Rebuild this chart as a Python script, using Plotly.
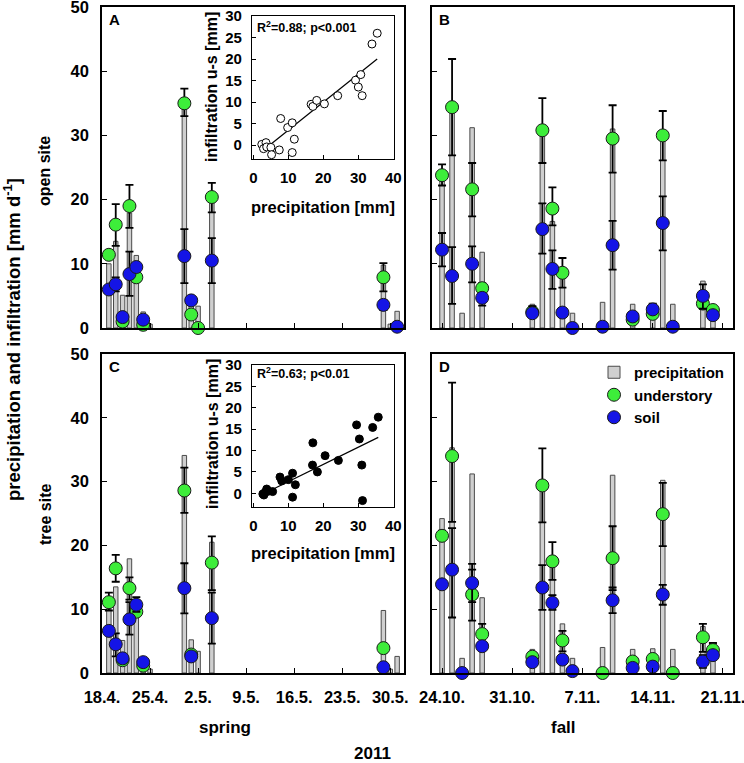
import plotly.graph_objects as go

W, H = 744, 763


def px(x):
    return x / W


def py(y):
    return 1 - y / H


FONT = "Liberation Sans, Arial, sans-serif"

# ---------------- data ----------------
# precipitation (shared by open and tree site panels)
spring_bar_dates = ['2011-04-19', '2011-04-20', '2011-04-21', '2011-04-22', '2011-04-23', '2011-04-24',
                    '2011-04-25', '2011-04-30', '2011-05-01', '2011-05-02', '2011-05-04', '2011-05-29',
                    '2011-05-30', '2011-05-31']
spring_precip = [10.0, 13.5, 5.1, 17.9, 11.3, 2.5, 0.6, 34.1, 5.2, 3.4, 20.5, 9.8, 0.6, 2.6]

fall_dates = ['2011-10-24', '2011-10-25', '2011-10-26', '2011-10-27', '2011-10-28', '2011-11-02',
              '2011-11-03', '2011-11-04', '2011-11-05', '2011-11-06', '2011-11-09', '2011-11-10',
              '2011-11-12', '2011-11-14', '2011-11-15', '2011-11-16', '2011-11-19', '2011-11-20']
fall_precip = [24.2, 35.3, 2.3, 31.2, 11.8, 3.7, 30.0, 16.6, 7.7, 2.3, 4.0, 31.0, 3.7, 3.8, 30.2, 3.7, 7.3, 3.4]

spring_dates = ['2011-04-19', '2011-04-20', '2011-04-21', '2011-04-22', '2011-04-23', '2011-04-24',
                '2011-04-30', '2011-05-01', '2011-05-02', '2011-05-04', '2011-05-29', '2011-05-31']

# A: open site, spring
A_green = [11.4, 16.1, 1.0, 19.0, 7.9, 0.5, 35.0, 2.1, 0.0, 20.4, 7.9, None]
A_green_hi = [11.4, 19.3, 1.0, 22.3, 7.9, 0.5, 37.3, 2.1, 0.0, 22.6, 10.1, None]
A_green_lo = [11.4, 12.8, 1.0, 15.6, 7.9, 0.5, 33.0, 2.1, 0.0, 18.0, 5.7, None]
A_blue = [6.0, 6.8, 1.7, 8.4, 9.5, 1.3, 11.2, 4.3, None, 10.5, 3.6, 0.2]
A_blue_hi = [6.0, 7.9, 1.7, 11.9, 9.5, 1.3, 15.4, 4.3, None, 14.0, 4.3, 0.2]
A_blue_lo = [6.0, 5.7, 1.7, 5.0, 9.5, 1.3, 7.0, 4.3, None, 7.0, 2.8, 0.2]

# C: tree site, spring
C_green = [11.1, 16.4, 2.0, 13.3, 9.6, 1.15, 28.6, 2.9, None, 17.3, 3.9, None]
C_green_hi = [12.6, 18.5, 2.0, 15.0, 9.6, 1.15, 32.2, 2.9, None, 21.4, 3.9, None]
C_green_lo = [9.8, 14.3, 2.0, 11.5, 9.6, 1.15, 25.1, 2.9, None, 13.0, 3.9, None]
C_blue = [6.6, 4.5, 2.3, 8.4, 10.7, 1.7, 13.3, 2.6, None, 8.6, 0.9, None]
C_blue_hi = [6.6, 6.2, 2.3, 11.1, 11.9, 1.7, 17.2, 2.6, None, 12.6, 0.9, None]
C_blue_lo = [6.6, 2.6, 2.3, 6.0, 9.6, 1.7, 9.35, 2.6, None, 4.6, 0.9, None]

# B: open site, fall
B_green = [23.8, 34.4, None, 21.6, 6.2, 2.5, 30.8, 18.6, 8.6, None, None, 29.5, 1.3, 2.2, 30.0, None, 3.8, 2.8]
B_green_hi = [25.5, 41.9, None, 25.7, 7.0, 2.5, 35.8, 21.9, 10.9, None, None, 34.7, 1.3, 2.2, 33.8, None, 3.8, 2.8]
B_green_lo = [22.2, 26.9, None, 17.4, 6.2, 2.5, 25.7, 16.0, 6.3, None, None, 24.2, 1.3, 2.2, 26.1, None, 3.8, 2.8]
B_blue = [12.2, 8.1, None, 10.0, 4.7, 2.3, 15.4, 9.2, 2.4, 0.0, 0.2, 12.9, 1.8, 2.9, 16.35, 0.2, 5.0, 2.0]
B_blue_hi = [14.8, 12.6, None, 12.7, 4.7, 3.4, 19.4, 12.1, 2.4, 0.0, 0.2, 16.7, 1.8, 3.8, 20.5, 0.2, 6.8, 2.0]
B_blue_lo = [9.6, 3.75, None, 7.1, 3.5, 1.8, 11.6, 6.1, 2.4, 0.0, 0.2, 9.1, 1.8, 2.9, 12.1, 0.2, 3.0, 2.0]

# D: tree site, fall
D_green = [21.5, 34.0, None, 12.3, 6.1, 2.55, 29.4, 17.5, 5.1, None, 0.0, 18.0, 1.8, 2.2, 24.9, 0.0, 5.6, 3.6]
D_green_hi = [22.3, 45.5, None, 16.2, 7.7, 3.2, 35.2, 20.5, 6.6, None, 0.0, 23.0, 1.8, 2.2, 29.8, 0.0, 7.7, 4.7]
D_green_lo = [21.5, 23.7, None, 8.2, 6.1, 2.55, 23.6, 14.6, 3.4, None, 0.0, 13.0, 1.8, 2.2, 19.9, 0.0, 3.3, 3.6]
D_blue = [13.9, 16.2, 0.0, 14.1, 4.2, 1.7, 13.4, 11.0, 2.1, 0.3, None, 11.4, 0.8, 1.0, 12.3, None, 1.8, 2.8]
D_blue_hi = [14.5, 22.7, 0.0, 17.1, 4.2, 1.7, 16.9, 12.2, 2.1, 0.3, None, 13.4, 0.8, 1.0, 13.8, None, 2.8, 2.8]
D_blue_lo = [13.4, 8.7, 0.0, 11.1, 4.2, 1.7, 9.9, 9.9, 2.1, 0.3, None, 9.4, 0.8, 1.0, 10.7, None, 0.8, 2.8]

# insets: infiltration difference understory - soil vs precipitation
insA_precip = [2.4, 2.9, 3.6, 3.8, 5.0, 5.2, 7.4, 7.8, 9.8, 11.1, 11.1, 11.7, 16.5, 17.0, 18.1, 20.3,
               24.1, 29.2, 30.0, 30.7, 31.1, 33.9, 35.4]
insA_infil = [0.2, -0.8, 0.6, -0.4, -0.5, -2.2, -1.1, 6.2, 4.1, 5.2, -1.7, 1.4, 9.5, 9.0, 10.4, 9.6,
              11.5, 15.1, 13.5, 16.4, 11.5, 23.5, 26.0]
insA_fit = dict(slope=0.65, intercept=-3.0, xmin=4.6, xmax=35.4)

insC_precip = [2.7, 3.0, 3.3, 3.8, 4.3, 5.5, 7.6, 8.1, 10.0, 11.2, 11.2, 12.0, 16.9, 17.0, 18.3, 20.5,
               24.3, 29.5, 30.3, 31.0, 31.2, 34.1, 35.7]
insC_infil = [-0.15, -0.4, 0.2, 1.0, 0.5, 0.4, 3.8, 2.9, 3.2, 4.7, -0.9, 2.0, 6.6, 11.8, 5.0, 8.8,
              7.7, 16.0, 12.7, 6.6, -1.7, 15.4, 17.8]
insC_fit = dict(slope=0.403, intercept=-1.3, xmin=5.7, xmax=35.7)

spring_ticks = ['2011-04-18', '2011-04-25', '2011-05-02', '2011-05-09', '2011-05-16', '2011-05-23', '2011-05-30']
spring_ticklabels = ['18.4.', '25.4.', '2.5.', '9.5.', '16.5.', '23.5.', '30.5.']
fall_ticks = ['2011-10-24', '2011-10-31', '2011-11-07', '2011-11-14', '2011-11-21']
fall_ticklabels = ['24.10.', '31.10.', '7.11.', '14.11.', '21.11.']
y_ticks = [0, 10, 20, 30, 40, 50]
inset_xticks = [0, 10, 20, 30, 40]
inset_yticks = [0, 5, 10, 15, 20, 25, 30]

# ---------------- styles ----------------
GREEN = '#3ded3a'
BLUE = '#1414e6'
BAR_FILL = '#cfcfcf'
BAR_LINE = '#4a4a4a'
DAY = 86400000


def errs(vals, hi, lo):
    up = [(h - v) if v is not None else 0 for v, h in zip(vals, hi)]
    dn = [(v - l) if v is not None else 0 for v, l in zip(vals, lo)]
    return up, dn


fig = go.Figure()


def add_panel(xa, ya, bar_x, bar_y, pt_x, g, ghi, glo, b, bhi, blo, barw, legend):
    fig.add_trace(go.Bar(x=bar_x, y=bar_y, width=barw, xaxis=xa, yaxis=ya,
                         marker=dict(color=BAR_FILL, line=dict(color=BAR_LINE, width=1)),
                         name='precipitation', showlegend=legend))
    gu, gd = errs(g, ghi, glo)
    fig.add_trace(go.Scatter(x=pt_x, y=g, mode='markers', xaxis=xa, yaxis=ya, cliponaxis=False,
                             marker=dict(color=GREEN, size=13, line=dict(color='#1a1a1a', width=1)),
                             error_y=dict(type='data', symmetric=False, array=gu, arrayminus=gd,
                                          color='black', thickness=1.8, width=4),
                             name='understory', showlegend=legend))
    bu, bd = errs(b, bhi, blo)
    fig.add_trace(go.Scatter(x=pt_x, y=b, mode='markers', xaxis=xa, yaxis=ya, cliponaxis=False,
                             marker=dict(color=BLUE, size=13, line=dict(color='#1a1a1a', width=1)),
                             error_y=dict(type='data', symmetric=False, array=bu, arrayminus=bd,
                                          color='black', thickness=1.8, width=4),
                             name='soil', showlegend=legend))


add_panel('x', 'y', spring_bar_dates, spring_precip, spring_dates,
          A_green, A_green_hi, A_green_lo, A_blue, A_blue_hi, A_blue_lo, 0.65 * DAY, False)
add_panel('x2', 'y2', fall_dates, fall_precip, fall_dates,
          B_green, B_green_hi, B_green_lo, B_blue, B_blue_hi, B_blue_lo, 0.45 * DAY, False)
add_panel('x3', 'y3', spring_bar_dates, spring_precip, spring_dates,
          C_green, C_green_hi, C_green_lo, C_blue, C_blue_hi, C_blue_lo, 0.65 * DAY, False)
add_panel('x4', 'y4', fall_dates, fall_precip, fall_dates,
          D_green, D_green_hi, D_green_lo, D_blue, D_blue_hi, D_blue_lo, 0.45 * DAY, True)

# insets
fig.add_trace(go.Scatter(x=[insA_fit['xmin'], insA_fit['xmax']],
                         y=[insA_fit['slope'] * insA_fit['xmin'] + insA_fit['intercept'],
                            insA_fit['slope'] * insA_fit['xmax'] + insA_fit['intercept']],
                         mode='lines', line=dict(color='black', width=1.2), xaxis='x5', yaxis='y5',
                         showlegend=False))
fig.add_trace(go.Scatter(x=insA_precip, y=insA_infil, mode='markers', xaxis='x5', yaxis='y5',
                         marker=dict(color='white', size=8, line=dict(color='black', width=1)),
                         showlegend=False, cliponaxis=False))
fig.add_trace(go.Scatter(x=[insC_fit['xmin'], insC_fit['xmax']],
                         y=[insC_fit['slope'] * insC_fit['xmin'] + insC_fit['intercept'],
                            insC_fit['slope'] * insC_fit['xmax'] + insC_fit['intercept']],
                         mode='lines', line=dict(color='black', width=1.2), xaxis='x6', yaxis='y6',
                         showlegend=False))
fig.add_trace(go.Scatter(x=insC_precip, y=insC_infil, mode='markers', xaxis='x6', yaxis='y6',
                         marker=dict(color='black', size=8, line=dict(color='black', width=1)),
                         showlegend=False, cliponaxis=False))

tickfont = dict(family=FONT, size=16.5, color='black', weight='bold')
insfont = dict(family=FONT, size=15, color='black', weight='bold')

base_ax = dict(showline=True, linecolor='black', linewidth=1.5, mirror=True, ticks='inside',
               ticklen=5, tickwidth=1.3, tickcolor='black', showgrid=False, zeroline=False,
               tickfont=tickfont, ticklabelstandoff=8, automargin=False, ticklabeloverflow='allow')

A_x = [px(102), px(404)]
B_x = [px(432), px(733)]
top_y = [py(328), py(7)]
bot_y = [py(673), py(354)]

layout = dict(
    template='none',
    width=W, height=H, margin=dict(l=0, r=0, t=0, b=0, pad=0, autoexpand=False),
    paper_bgcolor='white', plot_bgcolor='white', barmode='overlay',
    font=dict(family=FONT, color='black'),
    xaxis=dict(base_ax, domain=A_x, anchor='y', type='date',
               range=['2011-04-18', '2011-06-01'], tickvals=spring_ticks, showticklabels=False),
    yaxis=dict(base_ax, domain=top_y, anchor='x', range=[0, 50], tickvals=y_ticks),
    xaxis2=dict(base_ax, domain=B_x, anchor='y2', type='date',
                range=['2011-10-23', '2011-11-22'], tickvals=fall_ticks, showticklabels=False),
    yaxis2=dict(base_ax, domain=top_y, anchor='x2', range=[0, 50], tickvals=y_ticks,
                showticklabels=False),
    xaxis3=dict(base_ax, domain=A_x, anchor='y3', type='date',
                range=['2011-04-18', '2011-06-01'], tickvals=spring_ticks, ticktext=spring_ticklabels),
    yaxis3=dict(base_ax, domain=bot_y, anchor='x3', range=[0, 50], tickvals=y_ticks),
    xaxis4=dict(base_ax, domain=B_x, anchor='y4', type='date',
                range=['2011-10-23', '2011-11-22'], tickvals=fall_ticks, ticktext=fall_ticklabels),
    yaxis4=dict(base_ax, domain=bot_y, anchor='x4', range=[0, 50], tickvals=y_ticks,
                showticklabels=False),
    xaxis5=dict(base_ax, domain=[px(252), px(394)], anchor='y5', range=[-0.4, 40.2],
                tickvals=inset_xticks, tickfont=insfont, linewidth=1.2, ticklen=4, ticklabelstandoff=5),
    yaxis5=dict(base_ax, domain=[py(159), py(16)], anchor='x5', range=[-3.2, 30],
                tickvals=inset_yticks, tickfont=insfont, linewidth=1.2, ticklen=4, ticklabelstandoff=6),
    xaxis6=dict(base_ax, domain=[px(252), px(394)], anchor='y6', range=[-0.4, 40.2],
                tickvals=inset_xticks, tickfont=insfont, linewidth=1.2, ticklen=4, ticklabelstandoff=5),
    yaxis6=dict(base_ax, domain=[py(507), py(365)], anchor='x6', range=[-3.2, 30],
                tickvals=inset_yticks, tickfont=insfont, linewidth=1.2, ticklen=4, ticklabelstandoff=6),
    legend=dict(x=px(594), y=py(356), xanchor='left', yanchor='top', bgcolor='rgba(0,0,0,0)',
                font=dict(family=FONT, size=15, color='black', weight='bold'),
                itemwidth=30, tracegroupgap=0, traceorder='normal'),
)
fig.update_layout(**layout)


def ann(text, x, y, size=16, angle=0, xanchor='center', yanchor='middle'):
    fig.add_annotation(text=text, x=px(x), y=py(y), xref='paper', yref='paper', showarrow=False,
                       textangle=angle, xanchor=xanchor, yanchor=yanchor,
                       font=dict(family=FONT, size=size, color='black', weight='bold'))


ann('A', 107, 19, size=15, xanchor='left')
ann('B', 437, 19, size=15, xanchor='left')
ann('C', 107, 366, size=15, xanchor='left')
ann('D', 437, 366, size=15, xanchor='left')
ann('R<sup>2</sup>=0.88; p&lt;0.001', 255, 27, size=12.5, xanchor='left')
ann('R<sup>2</sup>=0.63; p&lt;0.01', 255, 373, size=12.5, xanchor='left')
ann('infiltration u-s [mm]', 212, 87, size=16, angle=-90)
ann('infiltration u-s [mm]', 212, 434, size=16, angle=-90)
ann('precipitation [mm]', 323, 207, size=16.5)
ann('precipitation [mm]', 323, 553, size=16.5)
ann('precipitation and infiltration [mm d<sup>-1</sup>]', 12, 340, size=18.5, angle=-90)
ann('open site', 45, 171, size=16, angle=-90)
ann('tree site', 45, 515, size=16, angle=-90)
ann('spring', 225, 727, size=17)
ann('fall', 563, 727, size=17)
ann('2011', 372, 753, size=17)

fig.write_html("out.html", config={'displayModeBar': False},
               post_script="document.body.style.margin='0px';document.body.style.overflow='hidden';")
